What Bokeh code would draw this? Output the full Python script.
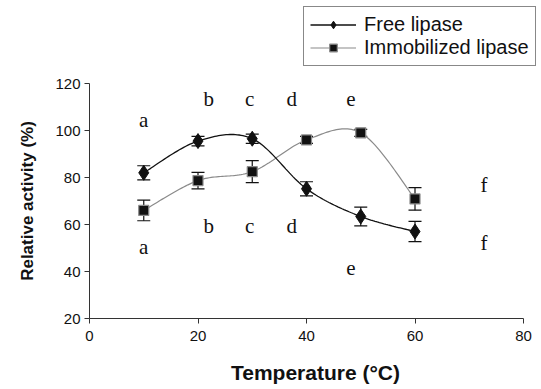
import numpy as np
from bokeh.plotting import figure
from bokeh.layouts import column
from bokeh.models import Range1d, ColumnDataSource, Whisker, TeeHead, Legend, LegendItem, FixedTicker
from bokeh.core.properties import value
from bokeh.embed import file_html
from bokeh.resources import INLINE

temperature = [10, 20, 30, 40, 50, 60]
free_activity = [82, 95.5, 96.5, 75.2, 63.4, 57]
free_err = [3.0, 2.0, 2.0, 3.0, 4.0, 4.3]
immob_activity = [66, 78.7, 82.5, 96, 99, 70.9]
immob_err = [4.4, 3.5, 4.7, 1.5, 1.5, 4.8]

series_names = ["Free lipase", "Immobilized lipase"]
x_ticks = [0, 20, 40, 60, 80]
y_ticks = [20, 40, 60, 80, 100, 120]

letters = ["a", "b", "c", "d", "e", "f", "a", "b", "c", "d", "e", "f"]
letter_x = [10, 22, 29.5, 37.3, 48.2, 72.7, 10, 22, 29.5, 37.3, 48.2, 72.7]
letter_y = [104.5, 113.5, 113.5, 113.5, 113.5, 77, 50.5, 59.5, 59.5, 59.5, 41.5, 52]

FONT = "Liberation Sans"
FREE_COLOR = "#111111"
IMM_LINE = "#8a8a8a"


def smooth(xs, ys, n=30):
    # Catmull-Rom style smoothing of the connecting line (like spreadsheet "smoothed line")
    xs = np.asarray(xs, float)
    ys = np.asarray(ys, float)
    px = np.concatenate([[xs[0]], xs, [xs[-1]]])
    py = np.concatenate([[ys[0]], ys, [ys[-1]]])
    ox, oy = [], []
    for i in range(1, len(px) - 2):
        p0 = np.array([px[i - 1], py[i - 1]])
        p1 = np.array([px[i], py[i]])
        p2 = np.array([px[i + 1], py[i + 1]])
        p3 = np.array([px[i + 2], py[i + 2]])
        c1 = p1 + (p2 - p0) / 6.0
        c2 = p2 - (p3 - p1) / 6.0
        t = np.linspace(0, 1, n)[:, None]
        b = (1 - t) ** 3 * p1 + 3 * (1 - t) ** 2 * t * c1 + 3 * (1 - t) * t ** 2 * c2 + t ** 3 * p2
        ox.extend(b[:, 0])
        oy.extend(b[:, 1])
    return ox, oy


# ---------------- main chart ----------------
# frame spans 89..541 px; 0..80 occupies 89..523 px, so range extends a little past 80
p = figure(width=541, height=314, output_backend="svg", toolbar_location=None,
           x_range=Range1d(0, 80 + 18 * 80 / 434.0), y_range=Range1d(20, 120),
           min_border_left=89, min_border_right=0, min_border_top=8, min_border_bottom=71)
p.outline_line_color = None
p.xgrid.visible = False
p.ygrid.visible = False
p.background_fill_color = "white"
p.border_fill_color = "white"

for ax in (p.xaxis[0], p.yaxis[0]):
    ax.axis_line_color = "#333333"
    ax.major_tick_line_color = "#333333"
    ax.major_tick_in = 0
    ax.major_tick_out = 5
    ax.minor_tick_line_color = None
    ax.major_label_text_font = FONT
    ax.major_label_text_font_size = "15px"
    ax.major_label_text_color = "#111111"
    ax.axis_label_text_font = FONT
    ax.axis_label_text_font_style = "bold"
    ax.axis_label_text_color = "#111111"

p.xaxis.bounds = (0, 80)
p.xaxis.axis_label_text_font_size = "21px"
p.yaxis.axis_label_text_font_size = "17px"
p.xaxis.ticker = FixedTicker(ticks=x_ticks)
p.yaxis.ticker = FixedTicker(ticks=y_ticks)
p.xaxis.axis_label = "Temperature (°C)"
p.yaxis.axis_label = "Relative activity (%)"
p.xaxis.major_label_standoff = 7
p.yaxis.major_label_standoff = 4
p.xaxis.axis_label_standoff = 17
p.yaxis.axis_label_standoff = 15

src_free = ColumnDataSource(dict(x=temperature, y=free_activity,
                                 lo=[a - e for a, e in zip(free_activity, free_err)],
                                 hi=[a + e for a, e in zip(free_activity, free_err)]))
src_imm = ColumnDataSource(dict(x=temperature, y=immob_activity,
                                lo=[a - e for a, e in zip(immob_activity, immob_err)],
                                hi=[a + e for a, e in zip(immob_activity, immob_err)]))

fx, fy = smooth(temperature, free_activity)
ix, iy = smooth(temperature, immob_activity)

p.line(ix, iy, line_color=IMM_LINE, line_width=1.2)
p.line(fx, fy, line_color=FREE_COLOR, line_width=1.3)

for src in (src_imm, src_free):
    w = Whisker(source=src, base="x", lower="lo", upper="hi", line_color="#111111", line_width=1.2,
                upper_head=TeeHead(size=13, line_color="#111111", line_width=1.2),
                lower_head=TeeHead(size=13, line_color="#111111", line_width=1.2))
    p.add_layout(w)

p.scatter("x", "y", source=src_imm, marker="square", size=10,
          fill_color="#111111", line_color=IMM_LINE, line_width=1.2)
p.scatter("x", "y", source=src_free, marker="diamond", size=15,
          fill_color=FREE_COLOR, line_color=FREE_COLOR)

p.text(letter_x, letter_y, text=letters, text_font=value("Liberation Serif"),
       text_font_size="21px", text_align="center", text_baseline="middle", text_color="#111111")

# ---------------- legend strip above the chart ----------------
lg = figure(width=541, height=75, output_backend="svg", toolbar_location=None,
            x_range=Range1d(0, 1), y_range=Range1d(0, 1),
            x_axis_type=None, y_axis_type=None,
            min_border_left=89, min_border_right=0, min_border_top=0, min_border_bottom=0)
lg.outline_line_color = None
lg.xgrid.visible = False
lg.ygrid.visible = False
lg.border_fill_color = "white"

kl_free = lg.line([-5, -4], [-5, -4], line_color=FREE_COLOR, line_width=1.3)
ks_free = lg.scatter([-5], [-5], marker="diamond", size=15, fill_color=FREE_COLOR, line_color=FREE_COLOR)
kl_imm = lg.line([-5, -4], [-5, -4], line_color=IMM_LINE, line_width=1.2)
ks_imm = lg.scatter([-5], [-5], marker="square", size=10, fill_color="#111111", line_color=IMM_LINE,
                    line_width=1.2)

legend = Legend(items=[LegendItem(label=series_names[0], renderers=[kl_free, ks_free]),
                       LegendItem(label=series_names[1], renderers=[kl_imm, ks_imm])],
                location=(214, 9), orientation="vertical")
legend.label_text_font = FONT
legend.label_text_font_size = "20px"
legend.label_text_color = "#111111"
legend.border_line_color = "#111111"
legend.border_line_width = 1
legend.background_fill_alpha = 1
legend.padding = 6
legend.spacing = 0
legend.margin = 0
legend.glyph_width = 46
legend.glyph_height = 19
legend.label_height = 19
legend.label_standoff = 8
lg.add_layout(legend, "center")

layout = column(lg, p, spacing=0)
open("out.html", "w").write(file_html(layout, INLINE))
